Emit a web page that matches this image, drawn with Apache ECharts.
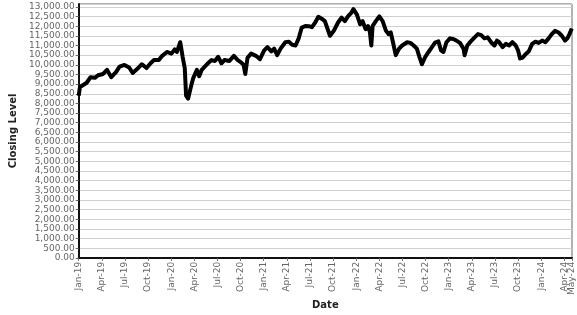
<!DOCTYPE html>
<html>
<head>
<meta charset="utf-8">
<script src="https://cdn.jsdelivr.net/npm/echarts@6/dist/echarts.min.js"></script>
<style>html,body{margin:0;padding:0;background:#fff;}#c{width:577px;height:315px;}</style>
</head>
<body>
<div id="c"></div>
<script>
var dates = [
'2019-01-01','2019-01-06','2019-01-19','2019-02-02','2019-02-16','2019-03-04','2019-03-17','2019-04-06','2019-04-21','2019-05-08',
'2019-05-27','2019-06-10','2019-06-29','2019-07-18','2019-08-01','2019-08-20','2019-09-07','2019-09-25','2019-10-11','2019-10-24',
'2019-11-13','2019-11-26','2019-12-15','2020-01-02','2020-01-15','2020-01-24','2020-02-06','2020-02-15','2020-02-23','2020-02-28',
'2020-03-07','2020-03-15','2020-03-21','2020-03-28','2020-04-11','2020-04-20','2020-04-30','2020-05-12','2020-05-25','2020-06-08',
'2020-06-21','2020-07-04','2020-07-17','2020-07-29','2020-08-18','2020-09-05','2020-09-20','2020-10-03','2020-10-13','2020-10-20',
'2020-10-29','2020-11-12','2020-12-01','2020-12-17','2021-01-03','2021-01-16','2021-02-01','2021-02-11','2021-02-22','2021-03-07',
'2021-03-26','2021-04-09','2021-04-22','2021-05-05','2021-05-17','2021-05-30','2021-06-13','2021-06-26','2021-07-09','2021-07-22',
'2021-08-04','2021-08-17','2021-08-30','2021-09-19','2021-10-04','2021-10-21','2021-11-04','2021-11-17','2021-11-29','2021-12-12',
'2021-12-21','2022-01-04','2022-01-17','2022-01-27','2022-02-07','2022-02-16','2022-02-23','2022-02-28','2022-03-05','2022-03-18',
'2022-04-01','2022-04-14','2022-04-27','2022-05-07','2022-05-16','2022-05-25','2022-06-05','2022-06-18','2022-06-30','2022-07-20',
'2022-08-02','2022-08-15','2022-08-28','2022-09-07','2022-09-17','2022-09-30','2022-10-13','2022-10-26','2022-11-08','2022-11-21',
'2022-12-01','2022-12-11','2022-12-23','2023-01-06','2023-01-19','2023-02-01','2023-02-14','2023-02-27','2023-03-03','2023-03-14',
'2023-03-27','2023-04-12','2023-04-25','2023-05-08','2023-05-21','2023-06-03','2023-06-16','2023-06-29','2023-07-09','2023-07-18',
'2023-08-01','2023-08-14','2023-08-27','2023-09-09','2023-09-22','2023-10-01','2023-10-09','2023-10-18','2023-10-30','2023-11-13',
'2023-11-26','2023-12-09','2023-12-22','2024-01-05','2024-01-18','2024-01-31','2024-02-12','2024-02-24','2024-03-09','2024-03-22',
'2024-04-04','2024-04-13','2024-04-21','2024-04-30'
];
var closing = [
8400,8850,8955,9070,9360,9325,9460,9525,9740,9360,
9625,9910,9995,9860,9575,9790,10030,9830,10080,10245,
10245,10465,10665,10580,10800,10665,11170,10415,9830,8400,
8250,8150,9000,9325,9740,9410,9740,9910,10080,10245,
10195,10415,10080,10245,10195,10465,10245,10130,9995,9525,
10365,10580,10465,10295,10750,10915,10700,10835,10500,10835,
11170,11200,11035,11000,11340,11930,12010,12000,11950,12190,
12490,12390,12265,11505,11760,12190,12440,12265,12510,12685,
12885,12600,12100,12265,11845,12010,11675,11000,12010,12265,
12510,12265,11760,11590,11675,11170,10500,10835,11000,11170,
11135,11000,10835,10415,10030,10415,10665,10900,11150,11220,
10750,10665,11170,11370,11340,11255,11135,10835,10500,11000,
11200,11420,11590,11540,11370,11420,11170,11000,11255,11170,
10915,11085,11000,11170,11000,10750,10330,10365,10530,10700,
11085,11200,11135,11255,11170,11370,11590,11760,11675,11505,
11255,11370,11590,11880
];
var monthNames = ['Jan','Feb','Mar','Apr','May','Jun','Jul','Aug','Sep','Oct','Nov','Dec'];
var startYear = 2019;
// x tick positions in months since Jan-19: every quarter, then the final May-24
var xTickMonths = [0,3,6,9,12,15,18,21,24,27,30,33,36,39,42,45,48,51,54,57,60,63];
var xEndTick = [64];
var xMaxMonth = 64;
var yTickStep = 500;

function monthIndex(s){
  var p = s.split('-');
  var y = +p[0], m = +p[1], d = +p[2];
  var dim = new Date(y, m, 0).getDate();
  return (y - startYear) * 12 + (m - 1) + (d - 1) / dim;
}
function monthLabel(v){
  var k = Math.round(v);
  return monthNames[k % 12] + '-' + String(startYear + Math.floor(k / 12)).slice(2);
}
var seriesData = dates.map(function(d, i){ return [monthIndex(d), closing[i]]; });

var labelStyle = { rotate: 90, fontFamily: 'DejaVu Sans', fontSize: 9, color: '#666', margin: 4, hideOverlap: false, formatter: monthLabel };

var chart = echarts.init(document.getElementById('c'));
chart.setOption({
  animation: false,
  backgroundColor: '#fff',
  grid: { left: 72, right: 5, top: 4, bottom: 50, show: true, borderColor: '#666', borderWidth: 1 },
  xAxis: [{
    type: 'value', min: 0, max: xMaxMonth, interval: 3, position: 'bottom',
    name: 'Date', nameLocation: 'middle', nameGap: 34,
    nameTextStyle: { fontFamily: 'DejaVu Sans', fontSize: 10, fontWeight: 'bold', color: '#222' },
    axisLine: { show: true, lineStyle: { color: '#111', width: 2 } },
    axisTick: { show: true, length: 3, lineStyle: { color: '#666' }, customValues: xTickMonths },
    splitLine: { show: false },
    axisLabel: Object.assign({ customValues: xTickMonths, showMaxLabel: true, showMinLabel: true }, labelStyle)
  }, {
    type: 'value', min: 0, max: xMaxMonth, position: 'bottom', offset: 0,
    axisLine: { show: false },
    axisTick: { show: true, length: 3, lineStyle: { color: '#666' }, customValues: xEndTick },
    splitLine: { show: false },
    axisLabel: Object.assign({ customValues: xEndTick, showMaxLabel: true }, labelStyle)
  }],
  yAxis: {
    type: 'value', min: 0, max: 13150, interval: yTickStep,
    name: 'Closing Level', nameLocation: 'middle', nameGap: 53,
    nameTextStyle: { fontFamily: 'DejaVu Sans', fontSize: 10, fontWeight: 'bold', color: '#222' },
    axisLine: { show: true, lineStyle: { color: '#111', width: 2 } },
    axisTick: { show: true, length: 3, lineStyle: { color: '#666' } },
    splitLine: { show: true, lineStyle: { color: '#cfcfcf', width: 1 } },
    axisLabel: {
      fontFamily: 'DejaVu Sans', fontSize: 9, color: '#666', margin: 4, showMaxLabel: false,
      formatter: function(v){ return v.toLocaleString('en-US', { minimumFractionDigits: 2, maximumFractionDigits: 2 }); }
    }
  },
  series: [{
    type: 'line', data: seriesData, xAxisIndex: 0, showSymbol: false, symbol: 'none',
    lineStyle: { color: '#000', width: 4, join: 'round' }
  }]
});
</script>
</body>
</html>
